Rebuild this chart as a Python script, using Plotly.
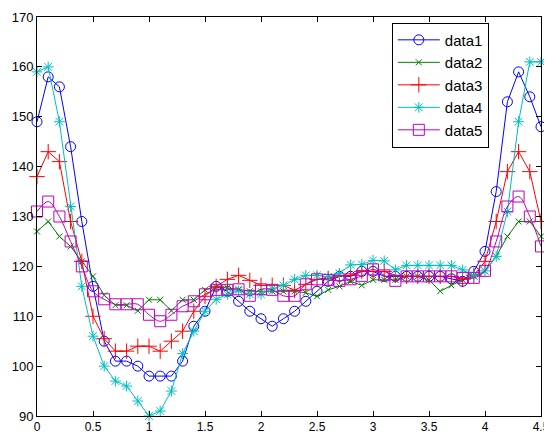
import plotly.graph_objects as go

x_vals = [0.0, 0.1, 0.2, 0.3, 0.4, 0.5, 0.6, 0.7, 0.8, 0.9,
          1.0, 1.1, 1.2, 1.3, 1.4, 1.5, 1.6, 1.7, 1.8, 1.9,
          2.0, 2.1, 2.2, 2.3, 2.4, 2.5, 2.6, 2.7, 2.8, 2.9,
          3.0, 3.1, 3.2, 3.3, 3.4, 3.5, 3.6, 3.7, 3.8, 3.9,
          4.0, 4.1, 4.2, 4.3, 4.4, 4.5]

data1 = [149, 158, 156, 144, 129, 116, 105, 101, 101, 100,
         98, 98, 98, 101, 108, 111, 116, 115, 113, 111,
         109.5, 108, 109.5, 111, 113, 115, 117, 118, 118, 119,
         119, 118, 118, 118, 118, 118, 118, 117.5, 117, 119,
         123, 135, 153, 159, 154, 148]

data2 = [127, 129, 126, 124, 121, 118, 114.2, 112.2, 112.2, 111.1,
         113.3, 113.3, 111.1, 113.3, 113.3, 115.3, 115.9, 115.7, 115.4, 115,
         115, 115, 115, 115, 114.7, 114, 115.3, 116, 117, 116.2,
         117.3, 117.3, 117.3, 118, 118, 117.3, 115, 116.2, 117.3, 118,
         119, 122, 126, 129, 129, 126]

data3 = [138, 143, 141, 129, 121, 110, 105.5, 103, 103, 104,
         104, 103, 105, 107, 111, 114, 116, 117.4, 118.2, 117.2,
         116.2, 116.2, 116.2, 115.2, 116.4, 117.4, 117.6, 118, 118.2, 119,
         119, 119, 118.2, 118, 118, 118, 118, 118, 117.4, 118.2,
         121, 129, 139, 143, 139, 129]

data4 = [159, 160, 149, 132, 116, 106, 100, 97, 96, 93,
         90, 91, 95, 102.5, 107, 111, 113.4, 114.4, 115.1, 114.4,
         114.4, 115.5, 116.2, 117.4, 118.2, 118.2, 117.9, 118.6, 120.3, 120.4,
         121.2, 121.1, 119.3, 120.2, 120.2, 120.2, 120.2, 120.2, 119.3, 118.1,
         119.1, 122, 131, 149, 161, 161]

data5 = [131, 133, 130, 125, 120, 115, 113.4, 112.4, 112.4, 112.4,
         110.3, 109, 110.3, 112, 113, 114.4, 115.3, 115.3, 115.4, 114.1,
         115.4, 115.3, 114.1, 114.1, 116.4, 117.4, 117.3, 117.1, 117.4, 118.1,
         119.4, 118.2, 117.1, 118, 118, 118, 118, 118, 117.7, 117.7,
         119.1, 125, 132, 134, 130, 124]

series_names = ["data1", "data2", "data3", "data4", "data5"]
x_ticks = [0, 0.5, 1, 1.5, 2, 2.5, 3, 3.5, 4, 4.5]
x_tick_text = ["0", "0.5", "1", "1.5", "2", "2.5", "3", "3.5", "4", "4.5"]
y_ticks = [90, 100, 110, 120, 130, 140, 150, 160, 170]

styles = [
    dict(color="#0000FF", symbol="circle-open", size=10, shape="linear"),
    dict(color="#008000", symbol="x-thin-open", size=6, shape="linear"),
    dict(color="#FF0000", symbol="cross-thin-open", size=11, shape="linear"),
    dict(color="#00BFBF", symbol="asterisk-open", size=9, shape="linear"),
    dict(color="#BF00BF", symbol="square-open", size=11, shape="spline"),
]

fig = go.Figure()
for name, ys, st in zip(series_names, [data1, data2, data3, data4, data5], styles):
    fig.add_trace(go.Scatter(
        x=x_vals, y=ys, name=name, mode="lines+markers",
        line=dict(color=st["color"], width=1, shape=st["shape"]),
        marker=dict(symbol=st["symbol"], size=st["size"], color=st["color"],
                    line=dict(color=st["color"], width=1)),
        cliponaxis=False,
    ))

font_family = "Liberation Sans, Arial, sans-serif"
fig.update_layout(
    width=552, height=434,
    margin=dict(l=29, r=19, t=9, b=26, autoexpand=False),
    paper_bgcolor="white", plot_bgcolor="white",
    font=dict(family=font_family, size=13, color="black"),
    showlegend=True,
    legend=dict(
        x=0.704, y=0.986, xanchor="left", yanchor="top",
        bgcolor="white", bordercolor="black", borderwidth=1,
        font=dict(family=font_family, size=15, color="black"),
        tracegroupgap=0, itemwidth=42,
    ),
    xaxis=dict(
        range=[0, 4.5], tickvals=x_ticks, ticktext=x_tick_text,
        ticks="inside", ticklen=5, tickcolor="black",
        showline=True, linecolor="black", linewidth=1, mirror="ticks",
        showgrid=False, zeroline=False, automargin=False,
        tickfont=dict(family=font_family, size=12, color="black"),
    ),
    yaxis=dict(
        range=[90, 170], tickvals=y_ticks,
        ticks="inside", ticklen=5, tickcolor="black",
        showline=True, linecolor="black", linewidth=1, mirror="ticks",
        showgrid=False, zeroline=False, automargin=False,
        tickfont=dict(family=font_family, size=13, color="black"),
    ),
)

fig.write_html("out.html")
